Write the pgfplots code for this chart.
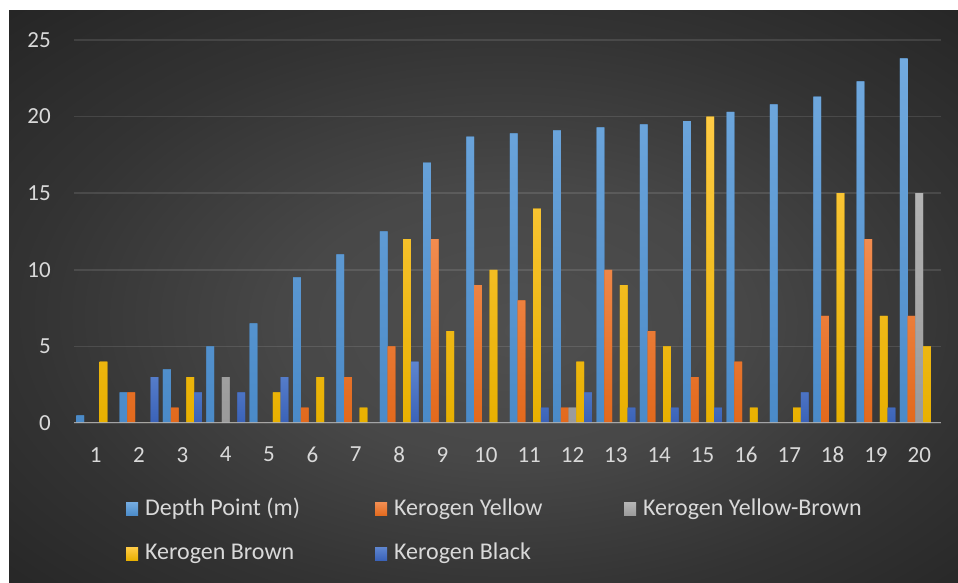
\documentclass[border=0pt]{standalone}
\usepackage{pgfplots}
\pgfplotsset{compat=1.18}
\usepackage{fontspec}
\setmainfont{Carlito}
\definecolor{txt}{HTML}{D9D9D9}
\definecolor{dT}{HTML}{72AADF}\definecolor{dB}{HTML}{4A8AC8}
\definecolor{oT}{HTML}{F28C4F}\definecolor{oB}{HTML}{E2691C}
\definecolor{gT}{HTML}{B4B4B4}\definecolor{gB}{HTML}{9A9A9A}
\definecolor{yT}{HTML}{FFCB45}\definecolor{yB}{HTML}{E8B000}
\definecolor{kT}{HTML}{5E85CF}\definecolor{kB}{HTML}{3A62B8}
\pgfdeclareradialshading{bgshade}{\pgfpoint{2bp}{-3bp}}{rgb(0bp)=(0.31,0.31,0.31); rgb(12bp)=(0.28,0.28,0.28); rgb(25bp)=(0.20,0.20,0.20); rgb(36bp)=(0.15,0.15,0.15); rgb(50bp)=(0.15,0.15,0.15)}
\begin{document}
\begin{tikzpicture}[x=1pt,y=1pt]
\useasboundingbox (0,0) rectangle (958,583);
\fill[white] (0,0) rectangle (958,583);
\shade[shading=bgshade] (9,0) rectangle (958,572);
\begin{axis}[
  at={(74pt,160pt)}, anchor=south west,
  width=867pt, height=383pt, scale only axis,
  xmin=0.5, xmax=20.5, ymin=0, ymax=25,
  ybar=0pt, bar width=0.1788,
  xtick={1,...,20}, ytick={0,5,...,25},
  axis line style={draw=none},
  major tick length=0pt,
  ymajorgrids,
  grid style={draw=white, draw opacity=0.11, line width=1.5pt},
  tick label style={text=txt, font=\fontsize{23}{27}\selectfont},
  /pgf/number format/assume math mode=true,
  yticklabel style={inner sep=0pt, xshift=-23pt},
  xticklabel style={inner sep=0pt, yshift=-24pt, anchor=north},
  legend columns=3,
  legend cell align=left,
  legend image code/.code={\path[#1,draw=none] (0pt,-9pt) rectangle (12pt,4pt);},
  legend style={draw=none, fill=none, text=txt, font=\fontsize{24}{28}\selectfont,
    at={(rel axis cs:0.0565,-0.188)}, anchor=north west,
    nodes={inner sep=0pt},
    row sep=25pt,
    /tikz/every odd column/.append style={column sep=7pt},
    /tikz/every even column/.append style={column sep=0pt}},
]
\addplot[draw=none, fill=dB, top color=dT, bottom color=dB] coordinates {
(1,0.5) (2,2) (3,3.5) (4,5) (5,6.5) (6,9.5) (7,11) (8,12.5) (9,17) (10,18.7)
(11,18.9) (12,19.1) (13,19.3) (14,19.5) (15,19.7) (16,20.3) (17,20.8) (18,21.3) (19,22.3) (20,23.8)};
\addlegendentry{\makebox[230pt][l]{\rule[-6pt]{0pt}{24pt}Depth Point (m)}}
\addplot[draw=none, fill=oB, top color=oT, bottom color=oB] coordinates {
(1,0) (2,2) (3,1) (4,0) (5,0) (6,1) (7,3) (8,5) (9,12) (10,9)
(11,8) (12,1) (13,10) (14,6) (15,3) (16,4) (17,0) (18,7) (19,12) (20,7)};
\addlegendentry{\makebox[230pt][l]{\rule[-6pt]{0pt}{24pt}Kerogen Yellow}}
\addplot[draw=none, fill=gB, top color=gT, bottom color=gB] coordinates {
(1,0) (2,0) (3,0) (4,3) (5,0) (6,0) (7,0) (8,0) (9,0) (10,0)
(11,0) (12,1) (13,0) (14,0) (15,0) (16,0) (17,0) (18,0) (19,0) (20,15)};
\addlegendentry{\makebox[230pt][l]{\rule[-6pt]{0pt}{24pt}Kerogen Yellow-Brown}}
\addplot[draw=none, fill=yB, top color=yT, bottom color=yB] coordinates {
(1,4) (2,0) (3,3) (4,0) (5,2) (6,3) (7,1) (8,12) (9,6) (10,10)
(11,14) (12,4) (13,9) (14,5) (15,20) (16,1) (17,1) (18,15) (19,7) (20,5)};
\addlegendentry{\makebox[230pt][l]{\rule[-6pt]{0pt}{24pt}Kerogen Brown}}
\addplot[draw=none, fill=kB, top color=kT, bottom color=kB] coordinates {
(1,0) (2,3) (3,2) (4,2) (5,3) (6,0) (7,0) (8,4) (9,0) (10,0)
(11,1) (12,2) (13,1) (14,1) (15,1) (16,0) (17,2) (18,0) (19,1) (20,0)};
\addlegendentry{\makebox[230pt][l]{\rule[-6pt]{0pt}{24pt}Kerogen Black}}
\draw[line width=2.7pt, color=white!70!black, opacity=0.85] (axis cs:0.5,0) -- (axis cs:20.5,0);
\end{axis}
\end{tikzpicture}
\end{document}
